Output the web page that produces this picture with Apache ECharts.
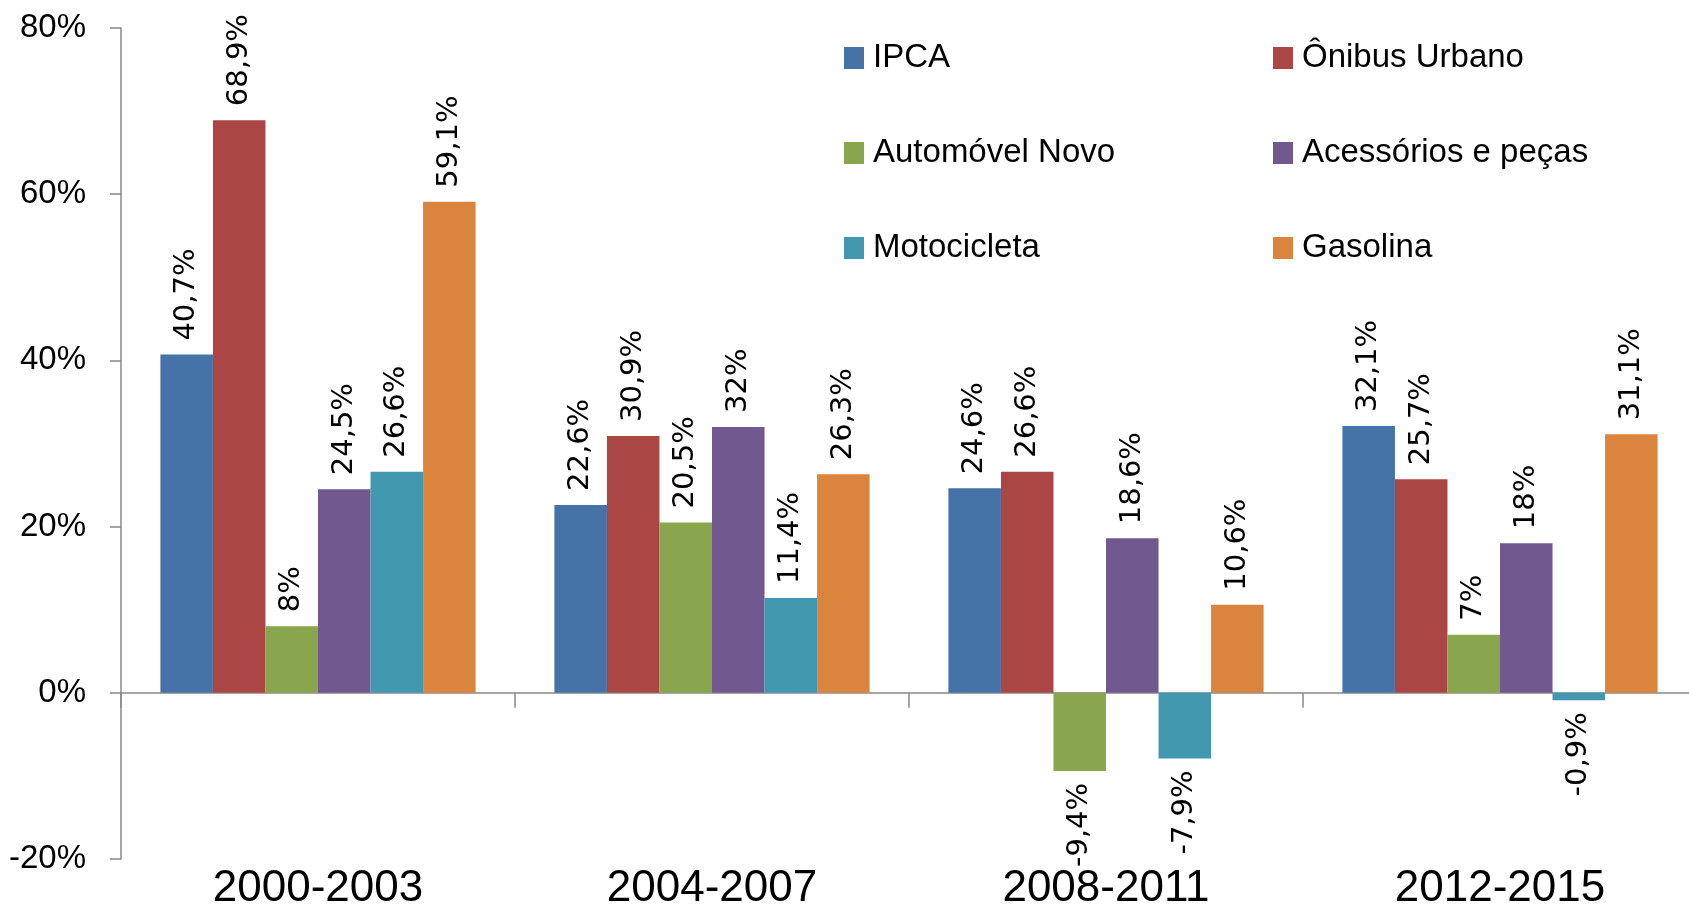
<!DOCTYPE html>
<html>
<head>
<meta charset="utf-8">
<script src="https://cdn.jsdelivr.net/npm/echarts@6/dist/echarts.min.js"></script>
<style>
html,body{margin:0;padding:0;background:#fff;}
#chart{width:1689px;height:904px;}
</style>
</head>
<body>
<div id="chart"></div>
<script>
const categories = ['2000-2003', '2004-2007', '2008-2011', '2012-2015'];
const seriesNames = ['IPCA', 'Ônibus Urbano', 'Automóvel Novo', 'Acessórios e peças', 'Motocicleta', 'Gasolina'];
const ipca = [40.7, 22.6, 24.6, 32.1];
const onibus = [68.9, 30.9, 26.6, 25.7];
const automovel = [8, 20.5, -9.4, 7];
const acessorios = [24.5, 32, 18.6, 18];
const motocicleta = [26.6, 11.4, -7.9, -0.9];
const gasolina = [59.1, 26.3, 10.6, 31.1];
const yTicks = { min: -20, max: 80, interval: 20 };

const seriesValues = [ipca, onibus, automovel, acessorios, motocicleta, gasolina];
const colors = ['#4572A7', '#AA4643', '#89A54E', '#71588F', '#4198AF', '#DB843D'];
const narrow = '"Liberation Sans Narrow", "Arial Narrow", "Liberation Sans", sans-serif';

function fmt(v) { return String(v).replace('.', ',') + '%'; }

const series = seriesValues.map((vals, i) => ({
  name: seriesNames[i],
  type: 'bar',
  xAxisIndex: 0,
  barGap: '0%',
  barCategoryGap: '20%',
  itemStyle: { color: colors[i] },
  data: vals.map(v => ({
    value: v,
    label: v < 0
      ? { position: 'bottom', align: 'right', distance: 12 }
      : { position: 'top', align: 'left' }
  })),
  label: {
    show: true,
    rotate: 90,
    distance: 14,
    verticalAlign: 'middle',
    fontFamily: '"DejaVu Sans", sans-serif',
    fontSize: 29,
    color: '#000',
    formatter: p => fmt(p.value)
  }
}));

const chart = echarts.init(document.getElementById('chart'), null, { renderer: 'canvas' });
chart.setOption({
  animation: false,
  backgroundColor: '#fff',
  grid: { left: 121, top: 28, bottom: 45, width: 1576, containLabel: false, outerBoundsMode: 'none' },
  legend: {
    data: seriesNames,
    left: 844,
    top: 38,
    padding: 0,
    width: 860,
    orient: 'horizontal',
    itemWidth: 20,
    itemHeight: 22,
    itemGap: 55,
    icon: 'rect',
    textStyle: {
      fontFamily: narrow,
      fontSize: 33,
      color: '#000',
      width: 345,
      lineHeight: 40,
      padding: [0, 0, 0, 4]
    }
  },
  xAxis: [
    {
      type: 'category',
      data: categories,
      position: 'bottom',
      axisLine: { show: false, onZero: false },
      axisTick: { show: false },
      axisLabel: { fontFamily: narrow, fontSize: 44, color: '#000', margin: 8 }
    },
    {
      type: 'category',
      data: categories,
      position: 'bottom',
      axisLine: { show: true, onZero: true, lineStyle: { color: '#888888', width: 1.5 } },
      axisTick: { show: true, length: 15, lineStyle: { color: '#888888', width: 1.5 } },
      axisLabel: { show: false }
    }
  ],
  yAxis: {
    type: 'value',
    min: yTicks.min,
    max: yTicks.max,
    interval: yTicks.interval,
    splitLine: { show: false },
    axisLine: { show: true, lineStyle: { color: '#888888', width: 1.5 } },
    axisTick: { show: true, length: 11, lineStyle: { color: '#888888', width: 1.5 } },
    axisLabel: { fontFamily: narrow, fontSize: 33, color: '#000', margin: 35, formatter: v => v + '%' }
  },
  series: series
});
</script>
</body>
</html>
